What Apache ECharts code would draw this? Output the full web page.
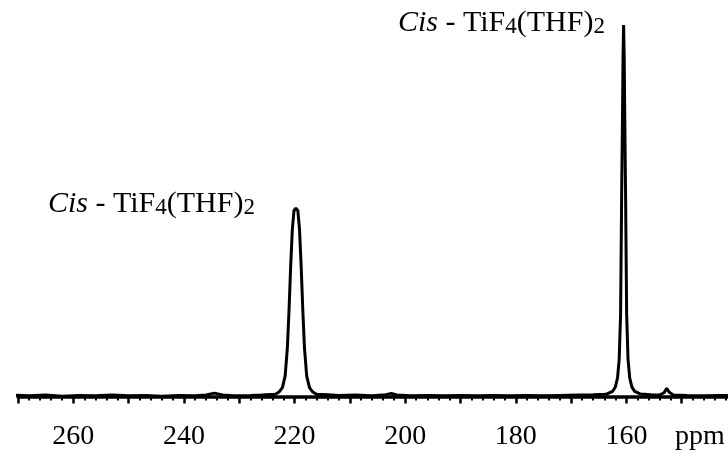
<!DOCTYPE html>
<html>
<head>
<meta charset="utf-8">
<script src="https://cdn.jsdelivr.net/npm/echarts@6/dist/echarts.min.js"></script>
<style>
  html, body { margin: 0; padding: 0; background: #fff; }
  #char { width: 728px; height: 454px; }
</style>
</head>
<body>
<div id="char"></div>
<script>
// chemical shift (ppm) and relative intensity
var shifts = [
  271, 268, 265, 262, 259, 256, 253, 250, 247, 244, 241, 238, 236, 234.5, 233, 231, 228, 226,
  223.5, 222.8, 222.2, 221.7, 221.3, 221.0, 220.7, 220.4, 220.1, 219.75, 219.4, 219.1, 218.8,
  218.5, 218.2, 217.8, 217.3, 216.7, 216, 214, 212, 209, 206, 203.5, 202.5, 201.5, 199, 196,
  193, 190, 187, 184, 181, 178, 175, 172, 169, 166, 164,
  163.5, 162.5, 162.0, 161.6, 161.3, 161.05, 160.85, 160.7, 160.6, 160.5, 160.4, 160.3, 160.15,
  159.95, 159.7, 159.4, 159.0, 158.5, 157.5, 155.5, 154, 153.2, 152.7, 152.3, 151.5, 149, 146,
  143, 140
];
var intensity = [
  0.004, 0.002, 0.004, 0.001, 0.003, 0.002, 0.004, 0.002, 0.003, 0.001, 0.003, 0.002, 0.004, 0.009, 0.004, 0.002, 0.003, 0.004,
  0.006, 0.012, 0.024, 0.055, 0.13, 0.23, 0.35, 0.45, 0.5, 0.507, 0.5, 0.45, 0.35,
  0.23, 0.13, 0.055, 0.024, 0.012, 0.006, 0.005, 0.003, 0.004, 0.002, 0.005, 0.008, 0.004, 0.002, 0.003,
  0.002, 0.003, 0.002, 0.003, 0.002, 0.003, 0.002, 0.003, 0.004, 0.005, 0.006,
  0.007, 0.014, 0.025, 0.05, 0.1, 0.22, 0.55, 0.76, 0.92, 1.0, 0.92, 0.76, 0.55,
  0.22, 0.1, 0.05, 0.025, 0.014, 0.007, 0.005, 0.004, 0.01, 0.022, 0.012, 0.004, 0.003, 0.002,
  0.003, 0.002
];
var tickLabels = [260, 240, 220, 200, 180, 160];
var unitLabel = "ppm";
var peakLabel = "{i|Cis}{n| - TiF}{s|4}{n|(THF)}{s|2}";

var serif = "'Liberation Serif', 'Times New Roman', serif";
var rich = {
  i: { fontFamily: serif, fontSize: 30, fontStyle: "italic", lineHeight: 32, verticalAlign: "bottom", color: "#000" },
  n: { fontFamily: serif, fontSize: 30, lineHeight: 32, verticalAlign: "bottom", color: "#000" },
  s: { fontFamily: serif, fontSize: 23, lineHeight: 17, verticalAlign: "bottom", color: "#000" }
};

var points = shifts.map(function (v, i) { return [v, intensity[i]]; });

var myChart = echarts.init(document.getElementById("char"));
myChart.setOption({
  animation: false,
  grid: { left: 18, width: 719, top: 25, height: 371.5, containLabel: false, outerBoundsMode: "none" },
  xAxis: {
    type: "value",
    inverse: true,
    min: 140,
    max: 270,
    interval: 10,
    offset: 13.5,
    axisLine: { lineStyle: { color: "#000", width: 3.5 } },
    axisTick: { length: 7, lineStyle: { color: "#000", width: 2.5 } },
    minorTick: { show: true, splitNumber: 5, length: 4, lineStyle: { color: "#000", width: 2 } },
    splitLine: { show: false },
    axisLabel: {
      interval: 0,
      margin: 13,
      color: "#000",
      fontFamily: serif,
      fontSize: 28,
      formatter: function (v) {
        return tickLabels.indexOf(v) >= 0 ? String(v) : "";
      }
    }
  },
  yAxis: { type: "value", min: 0, max: 1, show: false },
  graphic: [
    { type: "text", x: 398, y: 6, style: { text: peakLabel, rich: rich } },
    { type: "text", x: 48, y: 187, style: { text: peakLabel, rich: rich } },
    { type: "text", x: 675, y: 423, style: { text: unitLabel, fontFamily: serif, fontSize: 28, fill: "#000" } }
  ],
  series: [
    {
      type: "line",
      data: points,
      showSymbol: false,
      clip: false,
      lineStyle: { color: "#000", width: 3 }
    }
  ]
});
</script>
</body>
</html>
